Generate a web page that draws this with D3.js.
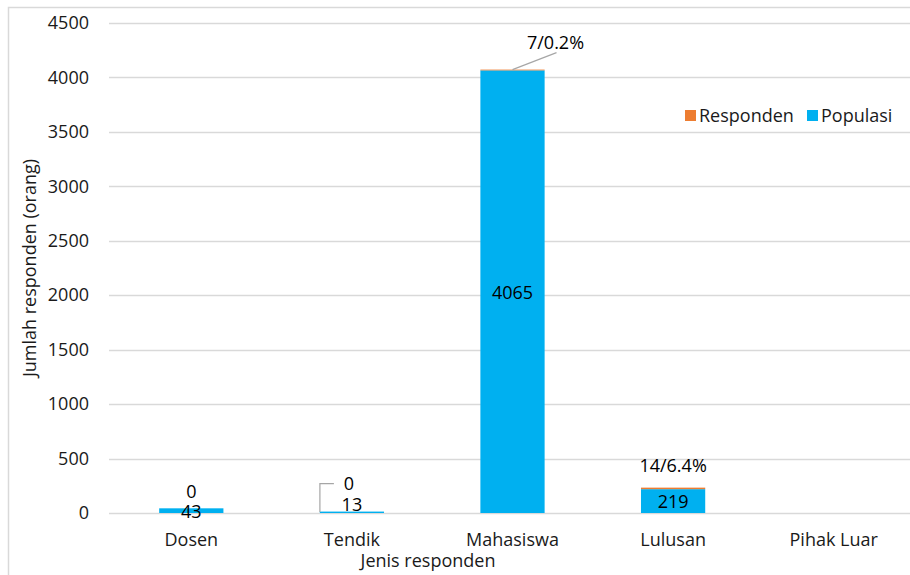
<!DOCTYPE html>
<html><head><meta charset="utf-8">
<script src="https://cdn.jsdelivr.net/npm/d3@7"></script>
<style>body{margin:0;background:#fff}svg{display:block;font-family:"Open Sans",sans-serif}</style>
</head><body><svg id="c" width="910" height="575"></svg>
<script>
const categories = ["Dosen","Tendik","Mahasiswa","Lulusan","Pihak Luar"];
const populasi = [43,13,4065,219,0];
const responden = [0,0,7,14,0];
const yTicks = [0,500,1000,1500,2000,2500,3000,3500,4000,4500];
const seriesNames = ["Responden","Populasi"];

const colors = {Responden:"#ED7D31", Populasi:"#00B0F0"};
const svg = d3.select("#c");
const fs = 18;
const x = d3.scaleBand().domain(categories).range([111,914]).paddingInner(0.6).paddingOuter(0.3);
const y = d3.scaleLinear().domain([0,4500]).range([513,23]);

// outer border
svg.append("rect").attr("x",8.5).attr("y",7.5).attr("width",1000).attr("height",1000)
  .attr("fill","none").attr("stroke","#D9D9D9").attr("stroke-width",1.5);

// gridlines
svg.append("g").selectAll("line").data(yTicks).join("line")
  .attr("x1",109).attr("x2",914).attr("y1",d=>Math.round(y(d))+0.5).attr("y2",d=>Math.round(y(d))+0.5)
  .attr("stroke","#D9D9D9").attr("stroke-width",1.5);

// y axis labels
const yAxis = d3.axisLeft(y).tickValues(yTicks).tickSize(0).tickPadding(20).tickFormat(d3.format("d"));
const ga = svg.append("g").attr("transform","translate(109,0)").call(yAxis);
ga.select(".domain").remove();
ga.selectAll("text").attr("font-size",fs).attr("font-family","Open Sans").attr("fill","#1a1a1a");

// x axis labels
const xAxis = d3.axisBottom(x).tickSize(0).tickPadding(20);
const gx = svg.append("g").attr("transform","translate(0,513)").call(xAxis);
gx.select(".domain").remove();
gx.selectAll("text").attr("font-size",fs).attr("font-family","Open Sans").attr("fill","#1a1a1a");

// stacked bars
const rows = categories.map((c,i)=>({cat:c,Populasi:populasi[i],Responden:responden[i]}));
const stack = d3.stack().keys(["Populasi","Responden"])(rows);
svg.append("g").selectAll("g").data(stack).join("g").attr("fill",s=>colors[s.key])
  .selectAll("rect").data(s=>s).join("rect")
  .attr("x",d=>x(d.data.cat)).attr("width",x.bandwidth())
  .attr("y",d=>y(d[1])).attr("height",d=>Math.max(0,y(d[0])-y(d[1])));

// data labels
const lay = {
  Dosen:{rdx:0,rdy:-17,pdy:null},
  Tendik:{rdx:-3,rdy:-28,pdy:-7,bracket:true},
  Mahasiswa:{rdx:43,rdy:-27,pdy:null,leader:true},
  Lulusan:{rdx:0,rdy:-22,pdy:null}
};
const lg = svg.append("g").attr("font-size",fs).attr("fill","#000").attr("text-anchor","middle");
categories.forEach((c,i)=>{
  const p = populasi[i], r = responden[i];
  if(p<=0) return;
  const L = lay[c];
  const cx = x(c)+x.bandwidth()/2;
  const top = y(p+r);
  const rl = r===0 ? "0" : `${r}/${(r/p*100).toFixed(1)}%`;
  lg.append("text").attr("x",cx+L.rdx).attr("y",top+L.rdy).attr("dy","0.35em").text(rl);
  const py = L.pdy===null ? y(p/2)+1 : y(p)+L.pdy;
  lg.append("text").attr("x",cx).attr("y",py).attr("dy","0.35em").text(String(p));
  if(L.bracket){
    svg.append("path").attr("d",`M${cx-32},${y(0)-1}V${top+L.rdy}H${cx-18}`)
      .attr("fill","none").attr("stroke","#A6A6A6").attr("stroke-width",1.2);
  }
  if(L.leader){
    svg.append("line").attr("x1",cx).attr("y1",top).attr("x2",cx+44).attr("y2",top+L.rdy+10)
      .attr("stroke","#A6A6A6").attr("stroke-width",1.2);
  }
});

// legend
const leg = svg.append("g").attr("font-size",fs).attr("fill","#1a1a1a");
const legX = [685,807];
seriesNames.forEach((n,i)=>{
  leg.append("rect").attr("x",legX[i]).attr("y",110).attr("width",11).attr("height",11).attr("fill",colors[n]);
  leg.append("text").attr("x",legX[i]+14).attr("y",116).attr("dy","0.35em").text(n);
});

// axis titles
svg.append("text").attr("x",428).attr("y",561).attr("dy","0.35em").attr("text-anchor","middle")
  .attr("font-size",fs).attr("fill","#1a1a1a").text("Jenis responden");
svg.append("text").attr("transform","translate(30,268) rotate(-90)").attr("dy","0.35em").attr("text-anchor","middle")
  .attr("font-size",fs).attr("fill","#1a1a1a").text("Jumlah responden (orang)");
</script></body></html>
